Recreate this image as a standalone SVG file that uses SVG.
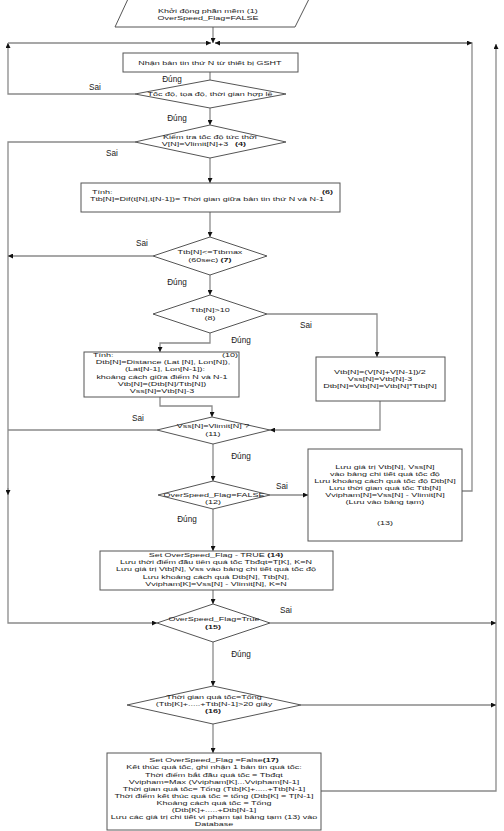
<svg xmlns="http://www.w3.org/2000/svg" width="504" height="831" viewBox="0 0 504 831">
<defs>
<marker id="ah" markerUnits="userSpaceOnUse" markerWidth="5" markerHeight="5" refX="5" refY="2.5" orient="auto">
<path d="M0,0 L5,2.5 L0,5 z" fill="#111"/>
</marker>
<style>
.shape{fill:#fff;stroke:#555;stroke-width:1}
.cn{fill:none;stroke:#8a8a8a;stroke-width:1.3}
.ar{marker-end:url(#ah)}
text{font-family:"Liberation Sans",Arial,sans-serif;font-size:6px;fill:#1a1a1a;transform-box:fill-box;transform-origin:center;transform:scaleX(1.5)}
.c{text-anchor:middle}
.l{transform-origin:left center}
.b{font-weight:bold}
.lab{font-size:8.2px;transform:none}
</style>
</defs>
<rect width="504" height="831" fill="#fff"/>
<g id="connectors">
<path class="cn ar" d="M213,27 V43"/>
<path class="cn ar" d="M135,94 H8 V43"/>
<path class="cn ar" d="M8,43 H211"/>
<path class="cn" d="M462,491 H472 V43 H215"/>
<path class="cn ar" d="M472,43 H215"/>
<path class="cn ar" d="M466,43 H472"/>
<path class="cn ar" d="M321,791 H496 V44"/>
<path class="cn" d="M210,72 V80"/>
<path class="cn ar" d="M210,108 V125"/>
<path class="cn ar" d="M135,142 H8 V623 H157"/>
<path class="cn ar" d="M8,488 V495"/>
<path class="cn ar" d="M210,158 V183"/>
<path class="cn ar" d="M210,212 V237"/>
<path class="cn ar" d="M153,256 H8"/>
<path class="cn ar" d="M210,275 V295"/>
<path class="cn ar" d="M267,314 H377 V357"/>
<path class="cn ar" d="M210,333 V343 H160 V352"/>
<path class="cn ar" d="M160,397 V406 H212 V417"/>
<path class="cn ar" d="M380,401 V430 H270"/>
<path class="cn" d="M157,430 H8"/>
<path class="cn ar" d="M213,444 V481"/>
<path class="cn ar" d="M270,495 H308"/>
<path class="cn ar" d="M213,509 V551"/>
<path class="cn ar" d="M213,590 V604"/>
<path class="cn ar" d="M270,623 H496"/>
<path class="cn ar" d="M213,642 V686"/>
<path class="cn ar" d="M301,705 H496"/>
<path class="cn ar" d="M213,724 V753"/>
</g>
<g id="labels">
<text class="c lab" x="172" y="82">Đúng</text>
<text class="c lab" x="95" y="90">Sai</text>
<text class="c lab" x="177" y="120.5">Đúng</text>
<text class="c lab" x="112" y="156">Sai</text>
<text class="c lab" x="142" y="246">Sai</text>
<text class="c lab" x="177" y="285">Đúng</text>
<text class="c lab" x="306" y="328">Sai</text>
<text class="c lab" x="241" y="343">Đúng</text>
<text class="c lab" x="138" y="421">Sai</text>
<text class="c lab" x="241" y="459">Đúng</text>
<text class="c lab" x="282" y="489">Sai</text>
<text class="c lab" x="187" y="522">Đúng</text>
<text class="c lab" x="286" y="613">Sai</text>
<text class="c lab" x="241" y="657">Đúng</text>
</g>
<g id="n1">
<polygon class="shape" points="128,-1 309,-1 295,27 115,27"/>
<text class="c" x="208" y="12.8">Khởi động phần mềm (1)</text>
<text class="c" x="208" y="20.4">OverSpeed_Flag=FALSE</text>
</g>
<g id="n2">
<rect class="shape" x="123" y="53" width="175" height="19"/>
<text class="c" x="210" y="64.6">Nhận bản tin thứ N từ thiết bị GSHT</text>
</g>
<g id="n3">
<polygon class="shape" points="210,80 286,94 210,108 135,94"/>
<text class="c" x="210" y="96">Tốc độ, tọa độ, thời gian hợp lệ</text>
</g>
<g id="n4">
<polygon class="shape" points="210,125 286,142 210,158 135,142"/>
<text class="c" x="210" y="139">Kiểm tra tốc độ tức thời</text>
<text class="c" x="195" y="146.3">V[N]=Vlimit[N]+3</text>
<text class="l b" x="235" y="146.3">(4)</text>
</g>
<g id="n6">
<rect class="shape" x="81" y="183" width="259" height="29"/>
<text class="l" x="92" y="194">Tính:</text>
<text class="l b" x="322" y="194">(6)</text>
<text class="c" x="207" y="201.2">Ttb[N]=Dif(t[N],t[N-1])= Thời gian giữa bản tin thứ N và N-1</text>
</g>
<g id="n7">
<polygon class="shape" points="210,237 267,256 210,275 153,256"/>
<text class="c" x="210" y="254">Ttb[N]&lt;=Ttbmax</text>
<text class="c" x="210" y="262.3">(60sec) <tspan class="b">(7)</tspan></text>
</g>
<g id="n8">
<polygon class="shape" points="210,295 267,314 210,333 153,314"/>
<text class="c" x="210" y="312">Ttb[N]&gt;10</text>
<text class="c" x="210" y="320">(8)</text>
</g>
<g id="n10">
<rect class="shape" x="84" y="352" width="155" height="45"/>
<text class="l" x="93" y="357.4">Tính:</text>
<text class="l" x="222" y="357.4">(10)</text>
<text class="c" x="163" y="364.4">Dtb[N]=Distance (Lat [N], Lon[N]),</text>
<text class="c" x="165" y="371.5">(Lat[N-1], Lon[N-1]):</text>
<text class="c" x="162" y="378.8">khoảng cách giữa điểm N và N-1</text>
<text class="c" x="162" y="386">Vtb[N]=(Dtb[N]/Ttb[N])</text>
<text class="c" x="162" y="393.1">Vss[N]=Vtb[N]-3</text>
</g>
<g id="n9">
<rect class="shape" x="316" y="357" width="129" height="44"/>
<text class="c" x="380" y="373.8">Vtb[N]=(V[N]+V[N-1])/2</text>
<text class="c" x="380" y="380.8">Vss[N]=Vtb[N]-3</text>
<text class="c" x="380" y="387.8">Dtb[N]=Vtb[N]=Vtb[N]*Ttb[N]</text>
</g>
<g id="n11">
<polygon class="shape" points="212,417 270,430 213,444 157,430"/>
<text class="c" x="213" y="428.2">Vss[N]=Vlimit[N] ?</text>
<text class="c" x="213" y="436">(11)</text>
</g>
<g id="n12">
<polygon class="shape" points="213,481 270,495 213,509 158,495"/>
<text class="c" x="214" y="497">OverSpeed_Flag=FALSE</text>
<text class="c" x="213" y="504">(12)</text>
</g>
<g id="n13">
<rect class="shape" x="308" y="449" width="154" height="92"/>
<text class="c" x="385" y="468.8">Lưu giá trị Vtb[N], Vss[N]</text>
<text class="c" x="385" y="475.8">vào bảng chi tiết quá tốc độ</text>
<text class="c" x="385" y="482.8">Lưu khoảng cách quá tốc độ Dtb[N]</text>
<text class="c" x="385" y="489.8">Lưu thời gian quá tốc Ttb[N]</text>
<text class="c" x="385" y="496.8">Vvipham[N]=Vss[N] - Vlimit[N]</text>
<text class="c" x="385" y="503.8">(Lưu vào bảng tạm)</text>
<text class="c" x="385" y="525.4">(13)</text>
</g>
<g id="n14">
<rect class="shape" x="100" y="551" width="233" height="39"/>
<text class="c" x="216" y="557.4">Set OverSpeed_Flag - TRUE <tspan class="b">(14)</tspan></text>
<text class="c" x="216" y="564.5">Lưu thời điểm đầu tiên quá tốc Tbđqt=T[K], K=N</text>
<text class="c" x="216" y="571.5">Lưu giá trị Vtb[N], Vss vào bảng chi tiết quá tốc độ</text>
<text class="c" x="216" y="578.6">Lưu khoảng cách quá Dtb[N], Ttb[N],</text>
<text class="c" x="216" y="585.6">Vvipham[K]=Vss[N] - Vlimit[N], K=N</text>
</g>
<g id="n15">
<polygon class="shape" points="213,604 270,623 213,642 157,623"/>
<text class="c" x="214" y="621">OverSpeed_Flag=True</text>
<text class="c b" x="213" y="629">(15)</text>
</g>
<g id="n16">
<polygon class="shape" points="213,686 301,705 213,724 127,705"/>
<text class="c" x="214" y="699.5">Thời gian quá tốc=Tổng</text>
<text class="c" x="214" y="706.5">(Ttb[K]+.....+Ttb[N-1]&gt;20 giây</text>
<text class="c b" x="213" y="713.5">(16)</text>
</g>
<g id="n17">
<rect class="shape" x="107" y="753" width="214" height="77"/>
<text class="c" x="214" y="762.5">Set OverSpeed_Flag =False<tspan class="b">(17)</tspan></text>
<text class="c" x="214" y="769.5">Kết thúc quá tốc, ghi nhận 1 bản tin quá tốc:</text>
<text class="c" x="214" y="776.6">Thời điểm bắt đầu quá tốc = Tbđqt</text>
<text class="c" x="214" y="783.6">Vvipham=Max (Vvipham[K]...Vvipham[N-1]</text>
<text class="c" x="214" y="790.7">Thời gian quá tốc= Tổng (Ttb[K]+.....+Ttb[N-1]</text>
<text class="c" x="214" y="797.7">Thời điểm kết thúc quá tốc = tổng (Dtb[K] = T[N-1]</text>
<text class="c" x="214" y="804.8">Khoảng cách quá tốc = Tổng</text>
<text class="c" x="214" y="811.8">(Dtb[K]+.....+Dtb[N-1]</text>
<text class="c" x="214" y="818.9">Lưu các giá trị chi tiết vi phạm tại bảng tạm (13) vào</text>
<text class="c" x="214" y="825.9">Database</text>
</g>
</svg>
